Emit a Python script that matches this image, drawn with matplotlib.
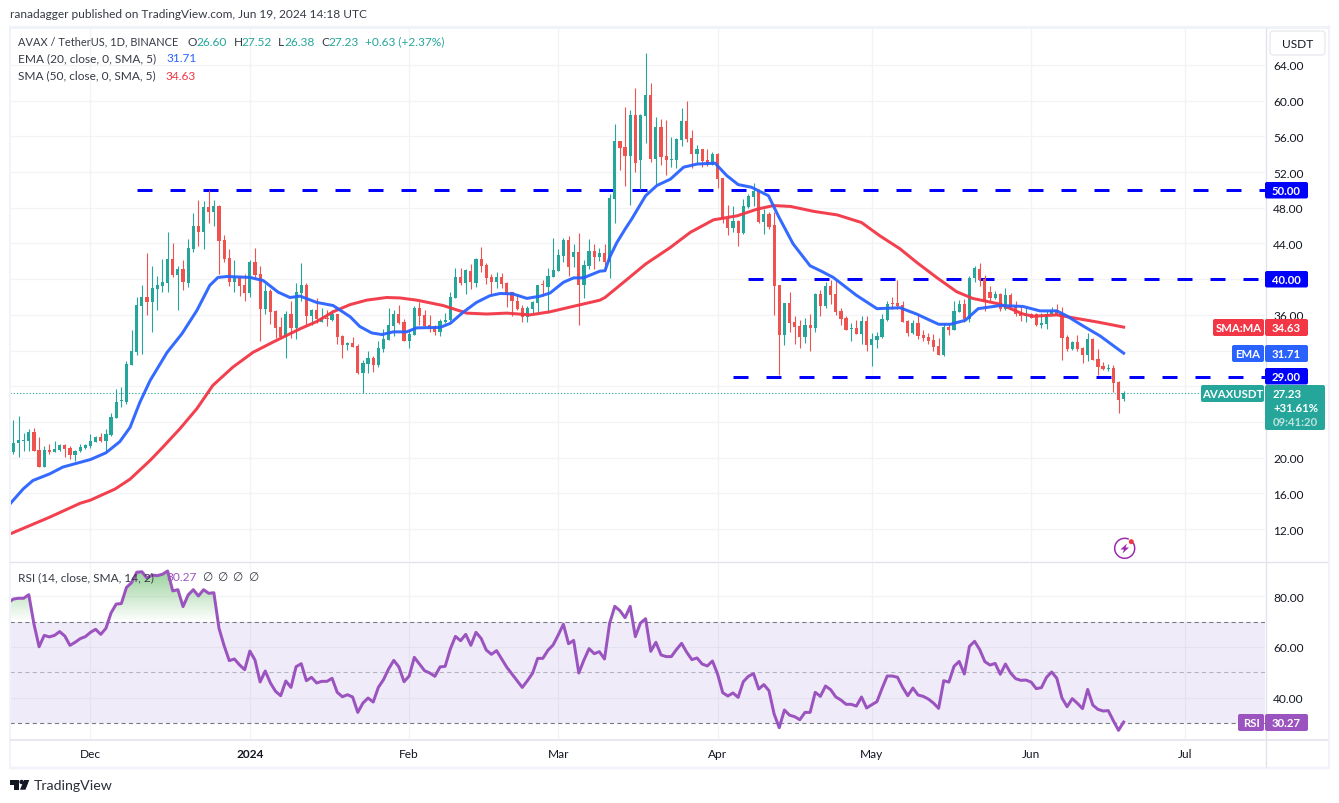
import numpy as np
import matplotlib
matplotlib.use('Agg')
import matplotlib.pyplot as plt
import matplotlib.dates as mdates
import matplotlib.transforms as mtrans
from matplotlib.patches import FancyBboxPatch, Rectangle, Polygon, Circle
from matplotlib.lines import Line2D
from matplotlib.path import Path

plt.rcParams['font.family'] = ['Lato', 'DejaVu Sans']
plt.rcParams['lines.scale_dashes'] = False

first_day = '2023-11-16'

opens = [20.6,21.7,21.9,21.9,22.9,20.9,19.0,20.9,20.6,20.9,
 21.4,21.1,20.35,20.7,21.1,21.3,21.8,22.3,21.9,22.55,
 24.5,26.3,26.25,30.4,31.9,37.0,38.0,37.45,38.9,39.25,
 39.6,42.25,40.5,41.15,39.6,43.4,46.0,45.3,48.1,47.5,
 48.2,44.4,42.4,39.7,40.15,39.35,38.45,41.9,40.6,36.65,
 38.7,36.45,34.65,33.55,36.1,34.55,38.45,39.35,35.9,36.55,
 35.2,35.65,35.45,36.1,33.65,32.65,32.85,32.55,29.5,30.5,
 31.2,30.4,32.2,33.2,34.75,36.1,35.2,33.1,33.8,36.8,
 36.0,34.9,34.65,34.1,35.2,35.45,37.9,40.25,39.6,40.9,
 39.6,42.25,41.6,40.25,39.7,40.25,39.6,38.55,37.55,36.8,
 35.75,36.65,37.35,39.4,39.1,40.25,40.9,42.6,44.4,42.5,
 43.05,39.35,41.5,43.15,42.5,42.9,41.95,49.0,55.5,54.8,
 53.8,58.4,53.35,58.3,60.65,53.45,57.05,53.8,53.4,53.35,
 55.6,57.7,55.8,54.0,54.6,53.35,52.8,54.0,51.35,46.75,
 45.75,46.5,45.15,48.1,49.2,49.9,46.4,47.3,46.05,39.35,
 33.75,37.3,35.2,34.75,33.5,34.85,34.5,38.35,37.0,39.25,
 38.35,36.4,35.65,34.45,34.55,33.85,35.3,32.6,33.2,33.5,
 35.45,37.35,37.35,37.1,35.3,33.95,35.1,33.75,33.5,33.2,
 32.5,31.5,34.65,34.3,36.3,37.2,35.55,40.1,41.15,40.0,
 38.55,37.9,38.35,36.65,38.25,37.0,36.2,35.85,36.1,36.1,
 34.85,35.0,36.1,36.55,36.1,33.55,32.2,32.95,32.3,31.5,
 33.3,31.05,30.25,29.95,30.05,28.5,26.6]

highs = [24.2,24.7,22.8,23.2,23.35,22.3,21.3,21.55,21.9,21.55,
 21.55,21.3,20.9,21.55,21.55,22.7,22.45,22.8,23.2,25.0,
 27.7,27.95,30.85,34.3,38.0,39.35,42.9,41.5,40.35,42.25,
 45.3,44.05,41.5,42.15,44.5,47.4,48.9,48.75,50.0,48.9,
 48.3,44.95,43.4,42.15,40.35,40.6,42.15,43.5,41.5,39.45,
 38.9,36.55,35.75,36.45,37.55,39.6,41.8,39.6,36.65,37.9,
 36.8,36.55,36.55,36.1,33.75,33.0,33.55,32.75,30.95,32.0,
 31.4,33.1,34.4,36.8,36.55,37.1,35.55,34.3,37.0,37.45,
 36.55,36.0,34.9,35.55,36.2,38.55,41.25,41.25,41.15,41.7,
 42.4,43.6,41.8,40.6,40.8,40.7,39.7,38.55,38.25,37.1,
 37.0,37.55,39.35,39.9,41.25,44.6,43.4,44.6,44.85,43.95,
 45.2,42.15,44.5,43.95,43.5,43.9,49.55,57.4,55.5,59.3,
 58.95,61.4,58.5,65.35,62.0,58.2,58.0,57.8,55.9,55.8,
 59.2,59.95,56.7,55.0,54.6,54.6,54.25,54.15,51.35,48.3,
 48.2,46.6,49.0,49.55,50.8,50.1,47.85,47.5,47.5,39.35,
 37.3,38.55,35.9,35.4,35.65,36.1,38.45,38.8,39.65,39.9,
 39.9,36.75,35.9,35.1,35.45,35.9,35.9,33.95,34.05,36.1,
 37.55,38.0,39.9,37.55,35.45,35.45,36.1,34.35,33.95,33.85,
 33.4,35.1,35.0,37.55,37.65,37.8,40.35,41.5,41.8,40.45,
 39.25,38.65,38.45,39.0,38.45,37.55,37.0,36.75,36.2,36.2,
 36.2,36.55,36.9,37.2,36.9,33.75,33.05,33.75,32.4,33.95,
 33.4,32.2,30.7,30.5,30.4,28.6,27.52]

lows = [20.4,20.1,20.8,20.8,20.8,19.0,19.0,20.4,20.6,20.7,
 20.1,19.9,19.6,20.6,21.0,21.1,21.8,21.8,20.6,22.45,
 24.5,25.7,26.05,30.4,31.55,31.65,36.0,34.1,36.55,38.55,
 38.55,40.25,36.55,38.8,39.1,43.05,43.7,43.4,46.3,46.0,
 40.6,41.9,39.25,38.55,38.1,37.55,38.0,40.25,33.1,36.1,
 35.0,33.4,33.4,31.2,33.4,33.3,37.55,34.9,34.9,35.1,
 35.2,34.75,35.3,32.75,31.2,32.1,32.4,29.4,27.25,29.5,
 29.6,30.2,31.85,33.2,33.65,35.0,33.1,32.3,33.75,34.9,
 34.65,34.1,33.75,33.65,35.1,35.3,37.9,39.35,38.35,38.9,
 39.1,40.8,39.45,38.35,39.0,39.0,36.9,35.9,36.55,35.2,
 35.2,36.2,36.3,38.1,36.2,40.25,40.9,41.9,40.35,41.35,
 34.9,37.9,41.15,41.15,42.07,40.95,40.1,46.3,52.2,50.45,
 48.3,52.0,50.0,55.25,53.1,50.65,52.8,51.65,52.55,52.45,
 54.9,55.35,52.45,53.0,52.55,52.7,52.8,50.2,46.3,45.0,
 45.3,43.7,45.05,48.0,48.2,46.3,45.05,45.6,36.0,29.25,
 32.6,34.05,32.7,32.3,32.85,31.95,34.05,35.9,36.75,37.2,
 36.0,34.85,34.3,33.05,33.85,32.75,31.95,30.25,32.3,33.4,
 35.3,36.65,36.65,35.25,33.65,33.85,33.3,33.1,32.75,31.95,
 31.5,31.4,33.75,34.3,36.3,35.2,35.2,39.7,39.25,36.45,
 37.55,37.8,36.45,36.55,36.65,35.85,35.3,35.2,35.65,34.75,
 34.55,34.4,36.0,36.0,30.95,31.95,32.05,31.95,30.6,30.85,
 30.95,29.25,29.8,29.7,27.35,25.0,26.38]

closes = [21.7,22.0,22.0,22.9,20.8,19.0,20.9,20.6,21.0,21.4,
 21.0,20.35,20.8,21.2,21.4,21.9,22.3,21.9,22.7,24.6,
 26.25,26.35,30.5,32.0,37.1,38.0,37.45,39.0,39.35,39.7,
 42.25,40.5,41.15,39.7,43.5,46.0,45.3,48.1,47.5,48.2,
 44.3,42.25,39.7,40.15,39.25,38.45,41.9,40.5,36.65,38.7,
 36.3,34.55,33.55,36.1,34.55,38.55,39.35,35.9,36.55,35.55,
 35.65,35.55,36.1,33.55,32.65,32.85,32.4,29.5,30.6,31.2,
 30.4,32.3,33.3,34.9,36.1,35.1,33.1,33.85,36.8,35.9,
 34.75,34.45,34.1,35.3,35.45,38.0,40.25,39.6,41.0,39.7,
 42.25,41.5,40.15,39.7,40.25,39.45,38.25,37.55,36.65,35.75,
 36.8,37.45,39.35,39.3,40.35,41.05,42.7,44.4,41.35,43.05,
 39.35,41.6,43.15,42.5,42.9,41.95,49.1,55.5,54.7,53.8,
 58.4,53.0,58.4,60.65,53.45,57.05,53.7,53.35,53.45,55.7,
 57.7,55.7,54.0,54.6,53.25,52.8,54.0,51.2,46.75,45.75,
 46.5,45.15,48.2,49.3,49.9,46.4,47.3,45.85,39.25,33.75,
 37.3,35.1,34.65,33.5,34.85,34.5,38.35,37.0,39.25,38.25,
 36.3,35.55,34.3,34.55,33.85,35.3,32.6,33.3,33.65,35.55,
 37.2,37.2,36.95,35.25,33.95,35.1,33.6,33.4,33.05,32.4,
 31.5,34.64,34.3,36.45,37.2,35.55,40.1,41.25,39.9,37.45,
 37.9,38.35,36.65,38.25,36.9,36.1,35.85,36.1,35.65,34.85,
 35.1,36.1,36.55,36.0,33.4,32.2,32.95,32.2,31.5,33.3,
 30.95,30.15,29.95,30.05,28.35,26.45,27.23]

ema_bars = [0.3,2.9,4.8,8.1,10.6,16,19,21.7,23.7,25.6,27.6,30.9,33.8,36.7,39.2,40.8,42.6,47,49.6,52.5,54.8,56.8,
 60,63.2,66.5,68.4,70.7,72.7,74.9,77.5,79.5,84,86,88.5,91.1,93.7,95.7,98.2,100.9,103.5,105.4,108,110,111.9,115.1,
 116.1,117,118.4,120,121.3,124,126.2,128.8,131.4,134,137.5,139.8,142,144.6,147.9,149.8,152.7,156,158,160.5,165,169,173.5,
 176.7,181,183.3,186.2,188.7,193,197.4,200.7,204,205.9,209,212.4,215,217]
ema_vals = [14.8,16.5,17.45,18.2,18.95,19.8,20.55,21.8,23.4,26.2,28.65,31.8,33.9,36.5,39.3,40.2,40.3,40.2,39.85,38.55,37.95,38.1,
 37.4,37.05,35.8,34.7,33.98,33.8,34.1,34.1,34.55,34.6,35.05,36.3,37.4,38.15,38.4,38.35,37.85,38.1,38.45,39.65,40.15,40.15,40.9,
 40.95,42.45,44.1,45.6,46.75,49.35,50.5,51.2,52.55,52.9,53.0,51.6,50.6,50.3,49.35,47.1,43.95,41.5,40.95,40.2,38.2,36.7,36.8,
 36.1,34.95,34.95,35.4,36.7,37.05,36.95,36.45,36.45,35.9,34.8,33.65,32.55,31.71]

sma_bars = [0.3,8.1,14,16,20.8,23.7,27.6,30.1,33.4,36.7,39.8,43.7,47.6,51.5,56.8,
 60,63.2,66.5,69.7,73.6,76.2,79.5,84.6,89.2,93.1,97,101.5,105.4,110.6,115.1,
 116.1,119.7,124,128.8,132.7,137.2,141.8,145.7,148.9,152.2,156.7,161.3,166,169.6,173.5,
 176.7,180.6,184.5,187.6,193,197.4,199.4,204,207.9,212.4,217]
sma_vals = [11.45,13.35,14.9,15.25,16.5,17.6,19.7,21.2,23.25,25.5,28.1,30.15,31.8,32.95,34.45,
 35.25,36.35,37.15,37.65,37.95,37.9,37.65,37.05,36.2,36.1,36.2,36.0,36.35,37.05,37.65,
 37.95,39.65,41.7,43.55,45.25,46.65,47.1,47.85,48.25,48.15,47.6,47.2,46.35,44.85,43.4,
 41.9,40.2,38.6,37.85,37.2,36.1,35.85,36.0,35.6,35.15,34.63]

rsi_vals = [77.6,79,79.3,79.3,80.7,69.1,60.1,64.6,64,64.6,66.1,
 64.35,60.65,61.85,63.3,64.1,65.8,67,65,67.4,73.5,
 77,77.2,83.6,85.5,89.6,89.8,87.3,88.5,88.25,88.8,
 90.1,82.2,82.7,76,80.6,82.7,80.2,82.7,81.25,81.5,
 67.4,60.5,54.6,55.25,52.9,51,58.4,54.85,46.15,50.5,
 45.75,42.45,40.7,46.55,44,52.2,53.4,46.65,48,45.75,
 46.4,46.4,47.6,42.05,40.3,41.1,40.2,34.1,37.8,39.8,
 38.2,44,47.05,51.3,54.7,52.1,46.25,48.5,55.9,53.25,
 50.6,49.7,48.4,52.1,52.35,59.2,64.2,62.5,65,60.65,
 65.8,63.4,58.8,57.1,58.55,55.25,51.95,49.3,46.65,44,
 46.65,49.6,55.5,55.5,58.7,60.8,64.75,69,61.3,62.6,
 49.7,54.85,59.35,57.35,58.15,55.25,69.4,76.1,74.4,71.6,
 76.1,64.1,69.5,71.2,58.3,61.85,56.85,56.2,56.2,59,
 61.45,57.9,55,55.65,53.25,52.5,54.45,49.3,41.9,40.6,
 41.8,40.05,46.25,48.4,49.45,43.35,45.1,42.7,33.45,28.05,
 35.05,33,32.4,31.2,34.1,34.1,42.05,40.45,44.55,43.1,
 40.2,39,37.3,37.3,36.6,40.2,35.85,37.15,38.35,43.6,
 48.5,48.5,48,44,40.7,43.75,41,40.45,39.4,37.8,
 35.7,46.65,46.1,52.35,54.3,49.3,60.25,62.25,58.95,54.2,
 52.85,53.5,49.2,53.25,49.7,47.45,46.8,46.9,46.1,43.5,
 43.9,48,50.1,47.6,39.8,36.35,39.55,37.7,35.6,43.2,
 37,35.3,34.65,34.8,30.8,27,30.27]

price_ticks = [12,16,20,24,28,32,36,40,44,48,52,56,60,64]
price_labels = ['12.00','16.00','20.00','','','','36.00','','44.00','48.00','52.00','56.00','60.00','64.00']
rsi_ticks = [40,60,80]
rsi_labels = ['40.00','60.00','80.00']
month_ticks = ['2023-12-01','2024-01-01','2024-02-01','2024-03-01','2024-04-01','2024-05-01','2024-06-01','2024-07-01']
month_labels = ['Dec','2024','Feb','Mar','Apr','May','Jun','Jul']
level_prices = [50.0,40.0,29.0]
level_starts = ['2023-12-10','2024-04-07','2024-04-04']
last_price = 27.23

UP, DOWN = '#26a69a', '#ef5350'
EMA_C, SMA_C, RSI_C = '#2962ff', '#f23645', '#9b54bf'
LEVEL_C = '#0000ff'
GRID = '#f2f3f6'
FRAME = '#e6e8ef'
INK = '#131722'
FS = 8.6
FB = 8.2

W, H = 1339, 804
fig = plt.figure(figsize=(W/100, H/100), dpi=100, facecolor='white')
px = mtrans.Affine2D().scale(1/W, -1/H).translate(0, 1) + fig.transFigure
PT = 0.72

def axes_px(l, t, r, b):
    return fig.add_axes([l/W, 1-b/H, (r-l)/W, (b-t)/H])

def T(x, y, s, color=INK, size=FS, weight='normal', ha='left', **kw):
    return fig.text(x, y, s, transform=px, color=color, fontsize=size, fontweight=weight,
                    ha=ha, va='center', **kw)

def box(x0, y0, x1, y1, color, r=2):
    p = FancyBboxPatch((x0, y0), x1-x0, y1-y0, boxstyle=f'round,pad=0,rounding_size={r}',
                       transform=px, facecolor=color, edgecolor='none', zorder=2.5)
    fig.add_artist(p)

base = mdates.date2num(np.datetime64(first_day))
def day(n):
    return base + np.asarray(n, dtype=float) - 1

xlim = (day(0.34), day(244.5))
ax = axes_px(10, 30, 1265, 562)
ar = axes_px(10, 563, 1265, 741)
for a in (ax, ar):
    a.set_xlim(*xlim)
    for s in a.spines.values():
        s.set_visible(False)
    a.set_axisbelow(True)
    a.grid(True, color=GRID, lw=1*PT*1.2)
    a.yaxis.tick_right()
    a.tick_params(length=0, labelcolor=INK, labelsize=FS)
    a.tick_params(axis='y', pad=5.8)
month_pos = mdates.date2num(np.array(month_ticks, dtype='datetime64[D]'))

# Price panel
ax.set_ylim(8.43, 68.03)
ax.set_yticks(price_ticks)
ax.set_yticklabels(price_labels)
ax.set_xticks(month_pos)
ax.tick_params(axis='x', labelbottom=False)

o, h, l, c = map(np.array, (opens, highs, lows, closes))
xs = day(np.arange(1, len(o)+1))
cols = np.where(c >= o, UP, DOWN)

for lv, st in zip(level_prices, level_starts):
    x0 = mdates.date2num(np.datetime64(st))
    ax.plot([x0, xlim[1]], [lv, lv], color=LEVEL_C, lw=3*PT, dashes=(15*PT, 18*PT),
            dash_capstyle='butt', zorder=1.5)
ax.axhline(last_price, color=UP, lw=1.1*PT, dashes=(1.2*PT, 2.0*PT), zorder=1.6)
ax.vlines(xs, l, h, colors=cols, lw=1.1*PT, zorder=2)
ax.bar(xs, np.maximum(np.abs(c-o), 0.12), bottom=np.minimum(o, c), width=0.62, color=cols,
       linewidth=0, zorder=2.2)
ax.plot(day(sma_bars), sma_vals, color=SMA_C, lw=3*PT, solid_joinstyle='round', zorder=3, alpha=0.95)
ax.plot(day(ema_bars), ema_vals, color=EMA_C, lw=3*PT, solid_joinstyle='round', zorder=3.1, alpha=0.95)

# RSI panel
ar.set_ylim(23.17, 93.66)
ar.set_yticks(rsi_ticks)
ar.set_yticklabels(rsi_labels)
ar.set_xticks(month_pos)
ar.set_xticklabels(month_labels)
ar.tick_params(axis='x', pad=6)
ar.get_xticklabels()[1].set_fontweight('bold')

ar.axhspan(30, 70, color='#7e57c2', alpha=0.115, lw=0, zorder=1)
for lv, col in ((70, '#787b86'), (50, '#b4b3c0'), (30, '#787b86')):
    ar.axhline(lv, color=col, lw=1.1*PT, dashes=(4.2*PT, 3.2*PT), zorder=1.5)
rsi = np.array(rsi_vals)
rx = day(np.arange(0, len(rsi)))
fb = ar.fill_between(rx, 70, rsi, where=rsi > 70, interpolate=True, facecolor='none', edgecolor='none')
clip = Path.make_compound_path(*fb.get_paths())
grad = np.zeros((64, 2, 4))
grad[..., 0], grad[..., 1], grad[..., 2] = 0.30, 0.69, 0.31
grad[..., 3] = np.linspace(0.62, 0, 64)[:, None]
im = ar.imshow(grad, extent=[xlim[0], xlim[1], 70, 92], aspect='auto', zorder=1.2, origin='upper')
im.set_clip_path(clip, transform=ar.transData)
ar.set_xlim(*xlim)
ar.set_ylim(23.17, 93.66)
ar.plot(rx, rsi, color=RSI_C, lw=3*PT, solid_joinstyle='round', zorder=3)

# Frame
def fl(xa, ya, color=FRAME, lw=1.0):
    fig.add_artist(Line2D(xa, ya, transform=px, color=color, lw=lw*PT, zorder=1.5, solid_capstyle='butt'))
fl([9.6, 9.6], [26, 770], '#f0f3fa', 2)
fl([8.6, 1330], [28, 28], '#f0f3fa', 3)
fl([1329, 1329], [26, 770], '#f0f3fa', 2)
fl([8.6, 1330], [769, 769], '#f0f3fa', 2.5)
fl([10, 1328], [562.5, 562.5], '#e0e3eb', 1.3)
fl([10, 1328], [741, 741], '#e0e3eb', 1.5)
fl([1265.5, 1265.5], [29, 768], '#e0e3eb', 1.3)

# Header and legends
T(10, 15, 'ranadagger published on TradingView.com, Jun 19, 2024 14:18 UTC', '#363a45')
T(18, 42, 'AVAX / TetherUS, 1D, BINANCE', '#363a45', size=7.9)
for xa, s, col in ((188, 'O', '#363a45'), (196, '26.60', UP), (234, 'H', '#363a45'), (241, '27.52', UP),
                   (278, 'L', '#363a45'), (284, '26.38', UP), (321, 'C', '#363a45'), (328, '27.23', UP),
                   (365, '+0.63 (+2.37%)', UP)):
    T(xa, 42, s, col)
T(18, 59, 'EMA (20, close, 0, SMA, 5)', '#363a45')
T(166, 59, '31.71', EMA_C)
T(18, 76, 'SMA (50, close, 0, SMA, 5)', '#363a45')
T(165, 76, '34.63', SMA_C)
T(18, 578, 'RSI (14, close, SMA, 14, 2)', '#363a45')
T(166, 578, '30.27', RSI_C)
for xa in (207, 222, 237, 253):
    T(xa, 578, '∅', '#363a45', ha='center')

# USDT button
fig.add_artist(FancyBboxPatch((1270, 32), 55, 24, boxstyle='round,pad=0,rounding_size=3', transform=px,
                              facecolor='white', edgecolor='#e0e3eb', lw=PT, zorder=2))
T(1297.5, 44, 'USDT', INK, ha='center')

# Price scale labels
def tag(y0, y1, xl, name, value, col):
    if name:
        box(xl, y0, 1264, y1, col)
        T((xl+1264)/2, (y0+y1)/2, name, 'white', size=FB, weight='bold', ha='center', zorder=4)
    box(1265, y0, 1308, y1, col)
    T(1286.5, (y0+y1)/2, value, 'white', size=FB, weight='bold', ha='center', zorder=4)
tag(183, 199.5, None, None, '50.00', LEVEL_C)
tag(272, 288.5, None, None, '40.00', LEVEL_C)
tag(320, 337, 1213, 'SMA:MA', '34.63', SMA_C)
tag(346, 363, 1232, 'EMA', '31.71', EMA_C)
tag(369, 385.5, None, None, '29.00', LEVEL_C)
tag(715, 732, 1238, 'RSI', '30.27', RSI_C)
box(1201, 386, 1264, 403, UP)
T(1232.5, 394.5, 'AVAXUSDT', 'white', size=FB, weight='bold', ha='center', zorder=4)
box(1265, 386, 1325, 431, UP)
T(1273, 394.5, '27.23', 'white', size=FB, weight='bold', zorder=4)
T(1273, 408.5, '+31.61%', 'white', size=FB, weight='bold', zorder=4)
T(1273, 423, '09:41:20', '#bde3de', size=FB, weight='bold', zorder=4)

# Lightning icon
a = np.radians(np.linspace(-30, 290, 80))
ICON = '#9c27b0'
fig.add_artist(Line2D(1124.7+10*np.cos(a), 549.3+10*np.sin(a), transform=px, color=ICON, lw=1.5*PT, zorder=3))
fig.add_artist(Polygon([(1127, 544.5), (1120.5, 550.5), (1124, 550.5), (1122.5, 554.5), (1129, 548.5), (1125.5, 548.5)],
                       transform=px, facecolor=ICON, edgecolor='none', zorder=3))
fig.add_artist(Circle((1131.3, 542.7), 2.5, transform=px, facecolor='#f23645', edgecolor='none', zorder=3.2))

# TradingView logo
for pts in ([(10, 781), (19, 781), (19, 790.7), (14, 790.7), (14, 785.5), (10, 785.5)],
            [(24, 781), (29.3, 781), (25.5, 790.7), (20, 790.7)]):
    fig.add_artist(Polygon(pts, transform=px, facecolor=INK, edgecolor='none', zorder=3))
fig.add_artist(Circle((21.6, 783), 2.2, transform=px, facecolor=INK, edgecolor='none', zorder=3))
T(33.5, 786, 'TradingView', '#2a2e39', size=10.2)

fig.savefig('out.png', dpi=100, facecolor='white')
